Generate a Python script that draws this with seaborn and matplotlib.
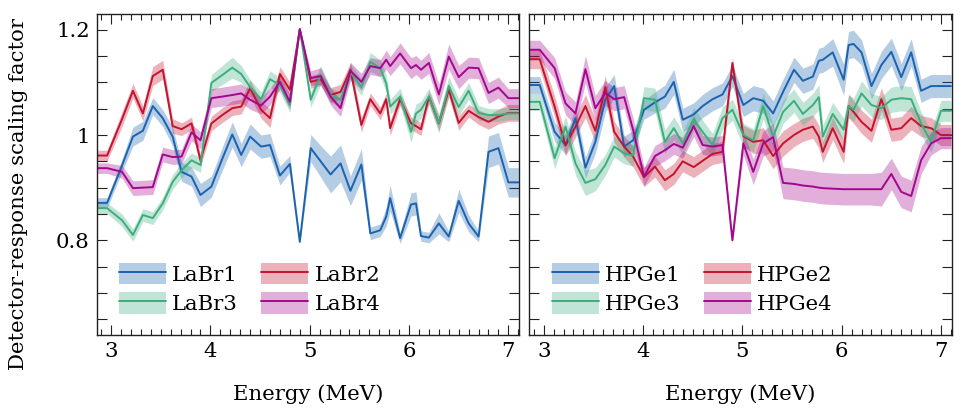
import matplotlib
matplotlib.use("Agg")
import matplotlib.pyplot as plt
import numpy as np
import pandas as pd
import seaborn as sns
from matplotlib.patches import Patch
from matplotlib.lines import Line2D
from matplotlib.ticker import MultipleLocator, FuncFormatter

sns.set_style("white")
plt.rcParams["font.family"] = ["DejaVu Serif"]
plt.rcParams["mathtext.fontset"] = "dejavuserif"
plt.rcParams["text.color"] = "black"
plt.rcParams["axes.labelcolor"] = "black"
plt.rcParams["xtick.color"] = "black"
plt.rcParams["ytick.color"] = "black"

FS = 15.3

# ---------------- data ----------------
energy = [2.85, 2.96, 3.11, 3.22, 3.32, 3.42, 3.52, 3.62, 3.71, 3.81,
          3.90, 4.01, 4.12, 4.22, 4.31, 4.40, 4.51, 4.60, 4.70, 4.80,
          4.90, 5.01, 5.11, 5.21, 5.31, 5.41, 5.52, 5.61, 5.71, 5.77,
          5.81, 5.91, 6.02, 6.07, 6.12, 6.20, 6.30, 6.40, 6.50, 6.60,
          6.70, 6.80, 6.90, 7.00, 7.10]

labr1 = [0.871, 0.871, 0.942, 0.997, 1.008, 1.055, 1.032, 0.997, 0.930, 0.921,
         0.886, 0.902, 0.955, 1.001, 0.962, 0.997, 0.978, 0.981, 0.923, 0.945,
         0.797, 0.975, 0.950, 0.925, 0.946, 0.894, 0.944, 0.813, 0.819, 0.845,
         0.880, 0.804, 0.868, 0.870, 0.808, 0.805, 0.832, 0.807, 0.875, 0.832,
         0.807, 0.968, 0.975, 0.910, 0.910]
labr1_err = [0.010, 0.010, 0.012, 0.018, 0.018, 0.016, 0.016, 0.018, 0.018, 0.018,
             0.022, 0.020, 0.022, 0.024, 0.022, 0.024, 0.022, 0.022, 0.018, 0.016,
             0.004, 0.026, 0.030, 0.035, 0.035, 0.028, 0.030, 0.012, 0.012, 0.018,
             0.025, 0.010, 0.022, 0.022, 0.010, 0.010, 0.020, 0.010, 0.022, 0.016,
             0.010, 0.030, 0.030, 0.028, 0.028]

labr2 = [0.961, 0.961, 1.030, 1.084, 1.041, 1.112, 1.124, 1.017, 1.011, 1.022,
         0.952, 1.022, 1.038, 1.051, 1.054, 1.089, 1.048, 1.032, 1.116, 1.086,
         1.201, 1.101, 1.106, 1.076, 1.082, 1.124, 1.019, 1.068, 1.041, 1.068,
         1.013, 1.068, 1.022, 1.017, 1.011, 1.073, 1.022, 1.086, 1.023, 1.046,
         1.034, 1.025, 1.035, 1.042, 1.042]
labr2_err = [0.010, 0.010, 0.014, 0.014, 0.014, 0.018, 0.018, 0.014, 0.012, 0.012,
             0.012, 0.014, 0.014, 0.014, 0.014, 0.016, 0.016, 0.018, 0.014, 0.014,
             0.004, 0.012, 0.012, 0.014, 0.014, 0.014, 0.014, 0.012, 0.012, 0.012,
             0.014, 0.012, 0.012, 0.012, 0.012, 0.012, 0.014, 0.014, 0.014, 0.012,
             0.014, 0.014, 0.014, 0.016, 0.016]

labr3 = [0.861, 0.861, 0.838, 0.810, 0.848, 0.842, 0.870, 0.911, 0.933, 0.952,
         0.943, 1.099, 1.114, 1.128, 1.116, 1.091, 1.068, 1.106, 1.095, 1.057,
         1.201, 1.067, 1.114, 1.076, 1.067, 1.119, 1.091, 1.139, 1.127, 1.098,
         1.054, 1.073, 1.006, 1.041, 1.048, 1.073, 1.022, 1.093, 1.053, 1.084,
         1.042, 1.038, 1.038, 1.041, 1.041]
labr3_err = [0.010, 0.010, 0.012, 0.012, 0.012, 0.012, 0.012, 0.014, 0.014, 0.014,
             0.014, 0.016, 0.018, 0.020, 0.016, 0.014, 0.014, 0.016, 0.014, 0.014,
             0.004, 0.014, 0.018, 0.014, 0.014, 0.016, 0.016, 0.018, 0.016, 0.016,
             0.014, 0.016, 0.020, 0.018, 0.016, 0.016, 0.018, 0.018, 0.016, 0.016,
             0.014, 0.012, 0.012, 0.012, 0.012]

labr4 = [0.937, 0.937, 0.930, 0.899, 0.900, 0.901, 0.963, 0.958, 0.959, 1.005,
         0.990, 1.070, 1.073, 1.076, 1.079, 1.067, 1.056, 1.073, 1.101, 1.063,
         1.201, 1.108, 1.112, 1.073, 1.051, 1.122, 1.101, 1.131, 1.127, 1.143,
         1.131, 1.155, 1.127, 1.133, 1.124, 1.137, 1.077, 1.149, 1.110, 1.128,
         1.127, 1.080, 1.090, 1.070, 1.070]
labr4_err = [0.010, 0.010, 0.012, 0.014, 0.014, 0.014, 0.014, 0.014, 0.014, 0.016,
             0.016, 0.018, 0.018, 0.018, 0.018, 0.018, 0.016, 0.016, 0.014, 0.014,
             0.004, 0.014, 0.016, 0.016, 0.016, 0.016, 0.016, 0.016, 0.016, 0.018,
             0.018, 0.020, 0.020, 0.018, 0.018, 0.020, 0.020, 0.024, 0.022, 0.020,
             0.020, 0.020, 0.020, 0.018, 0.018]

hpge1 = [1.095, 1.095, 1.006, 0.981, 1.032, 0.938, 0.987, 1.067, 1.093, 0.978,
         0.990, 1.048, 1.062, 1.073, 1.101, 1.029, 1.039, 1.055, 1.068, 1.077,
         1.112, 1.057, 1.070, 1.065, 1.041, 1.082, 1.124, 1.103, 1.111, 1.141,
         1.143, 1.157, 1.105, 1.171, 1.173, 1.157, 1.093, 1.133, 1.158, 1.110,
         1.157, 1.084, 1.093, 1.093, 1.093]
hpge1_err = [0.016, 0.016, 0.018, 0.018, 0.020, 0.020, 0.022, 0.024, 0.022, 0.020,
             0.018, 0.018, 0.020, 0.022, 0.024, 0.022, 0.022, 0.022, 0.022, 0.022,
             0.020, 0.022, 0.024, 0.024, 0.024, 0.024, 0.024, 0.024, 0.024, 0.024,
             0.024, 0.026, 0.030, 0.026, 0.026, 0.024, 0.024, 0.026, 0.026, 0.026,
             0.026, 0.022, 0.022, 0.022, 0.022]

hpge2 = [1.144, 1.144, 1.054, 0.980, 1.016, 1.055, 1.008, 1.091, 1.006, 0.978,
         0.959, 0.920, 0.940, 0.914, 0.926, 0.950, 0.939, 0.951, 0.964, 0.968,
         1.137, 0.998, 0.987, 0.990, 0.960, 0.984, 1.000, 1.010, 1.016, 0.997,
         0.968, 1.013, 0.968, 1.055, 1.044, 1.025, 1.008, 1.068, 1.010, 1.013,
         1.032, 1.017, 1.013, 1.000, 1.000]
hpge2_err = [0.018, 0.018, 0.020, 0.020, 0.020, 0.022, 0.022, 0.022, 0.020, 0.020,
             0.020, 0.018, 0.020, 0.020, 0.020, 0.020, 0.020, 0.020, 0.020, 0.020,
             0.010, 0.020, 0.022, 0.024, 0.024, 0.024, 0.022, 0.022, 0.022, 0.022,
             0.020, 0.022, 0.022, 0.022, 0.022, 0.022, 0.022, 0.022, 0.022, 0.022,
             0.022, 0.020, 0.020, 0.020, 0.020]

hpge3 = [1.063, 1.063, 0.956, 1.016, 0.946, 0.909, 0.916, 0.943, 0.978, 0.965,
         0.961, 1.070, 1.067, 0.987, 1.013, 0.984, 1.030, 1.006, 0.981, 1.032,
         1.048, 1.000, 0.990, 1.055, 0.997, 1.044, 1.065, 1.040, 1.057, 1.072,
         0.997, 1.040, 1.010, 1.055, 1.048, 1.079, 1.057, 1.051, 1.067, 1.070,
         1.068, 1.022, 0.987, 1.046, 1.046]
hpge3_err = [0.016, 0.016, 0.020, 0.020, 0.022, 0.024, 0.022, 0.020, 0.020, 0.020,
             0.020, 0.022, 0.022, 0.022, 0.022, 0.022, 0.022, 0.022, 0.022, 0.022,
             0.020, 0.022, 0.022, 0.024, 0.022, 0.022, 0.022, 0.022, 0.022, 0.024,
             0.022, 0.022, 0.022, 0.022, 0.022, 0.024, 0.022, 0.022, 0.024, 0.024,
             0.024, 0.022, 0.020, 0.020, 0.020]

hpge4 = [1.162, 1.162, 1.127, 1.060, 1.041, 1.125, 1.051, 1.080, 1.068, 1.072,
         1.010, 0.921, 0.960, 0.971, 0.983, 0.976, 1.017, 0.981, 0.978, 0.981,
         0.800, 0.984, 0.930, 0.984, 0.996, 0.909, 0.907, 0.904, 0.902, 0.900,
         0.899, 0.898, 0.897, 0.897, 0.897, 0.897, 0.897, 0.897, 0.926, 0.892,
         0.884, 0.952, 0.984, 0.994, 0.994]
hpge4_err = [0.018, 0.018, 0.020, 0.022, 0.022, 0.026, 0.024, 0.024, 0.022, 0.022,
             0.022, 0.018, 0.020, 0.020, 0.020, 0.020, 0.020, 0.018, 0.018, 0.018,
             0.006, 0.022, 0.024, 0.024, 0.026, 0.030, 0.030, 0.030, 0.030, 0.030,
             0.030, 0.030, 0.030, 0.030, 0.030, 0.030, 0.030, 0.032, 0.030, 0.030,
             0.030, 0.026, 0.022, 0.020, 0.020]

left_names = ["LaBr1", "LaBr2", "LaBr3", "LaBr4"]
right_names = ["HPGe1", "HPGe2", "HPGe3", "HPGe4"]
left_vals = [labr1, labr2, labr3, labr4]
left_errs = [labr1_err, labr2_err, labr3_err, labr4_err]
right_vals = [hpge1, hpge2, hpge3, hpge4]
right_errs = [hpge1_err, hpge2_err, hpge3_err, hpge4_err]

colors = ["#1a63b0", "#c4122f", "#3cae7e", "#a3078e"]
BAND_ALPHA = 0.32


def long_frame(names, vals, errs):
    rows = []
    for n, v, e in zip(names, vals, errs):
        for x, m, s in zip(energy, v, e):
            rows.append((n, x, m - s))
            rows.append((n, x, m))
            rows.append((n, x, m + s))
    return pd.DataFrame(rows, columns=["det", "E", "val"])


fig = plt.figure(figsize=(9.62, 4.11), dpi=100)
axL = fig.add_axes([0.1005, 0.185, 0.4393, 0.781])
axR = fig.add_axes([0.5502, 0.185, 0.4393, 0.781], sharey=axL)

for ax, names, vals, errs in [(axL, left_names, left_vals, left_errs),
                              (axR, right_names, right_vals, right_errs)]:
    df = long_frame(names, vals, errs)
    sns.lineplot(data=df, x="E", y="val", hue="det", hue_order=names,
                 palette=colors, estimator="median",
                 errorbar=lambda s: (s.min(), s.max()),
                 err_kws=dict(alpha=BAND_ALPHA, linewidth=0),
                 linewidth=1.4, ax=ax, legend=False)
    ax.set_xlim(2.855, 7.11)
    ax.set_ylim(0.62, 1.23)
    ax.xaxis.set_major_locator(MultipleLocator(1))
    ax.xaxis.set_minor_locator(MultipleLocator(0.1))
    ax.yaxis.set_major_locator(MultipleLocator(0.2))
    ax.yaxis.set_minor_locator(MultipleLocator(0.05))
    ax.yaxis.set_major_formatter(FuncFormatter(lambda v, p: f"{v:g}"))
    ax.tick_params(which="both", direction="in", top=True, right=True,
                   bottom=True, left=True,
                   width=0.8, color="#222222", labelsize=FS, pad=5)
    ax.tick_params(axis="x", which="major", length=7)
    ax.tick_params(axis="x", which="minor", length=4)
    ax.tick_params(axis="y", which="both", length=7)
    for sp in ax.spines.values():
        sp.set_color("#222222")
        sp.set_linewidth(1.0)
    ax.set_xlabel("Energy (MeV)", fontsize=FS)
    ax.xaxis.set_label_coords(0.5, -0.155)
    ax.set_ylabel("")

    handles = [(Patch(facecolor=c, alpha=BAND_ALPHA, edgecolor="none"),
                Line2D([], [], color=c, linewidth=1.4)) for c in colors]
    order = [0, 2, 1, 3]
    ax.legend([handles[i] for i in order], [names[i] for i in order],
              ncol=2, loc="lower left", bbox_to_anchor=(0.008, 0.005),
              frameon=False, fontsize=FS,
              handlelength=2.2, handleheight=1.2, handletextpad=0.3,
              columnspacing=1.1, labelspacing=0.35, borderaxespad=0.5,
              borderpad=0.4)

axR.tick_params(labelleft=False)
axL.set_ylabel("Detector-response scaling factor", fontsize=FS)
axL.yaxis.set_label_coords(-0.163, 0.44)

fig.savefig("out.png", dpi=100)
